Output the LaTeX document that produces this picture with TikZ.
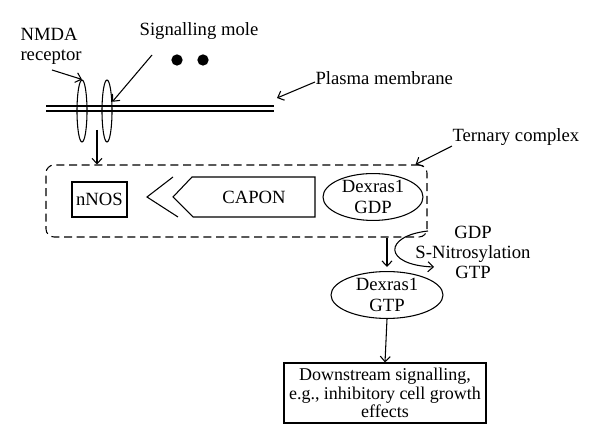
\documentclass[tikz,border=0pt]{standalone}
\usepackage{fontspec}
\setmainfont{Liberation Serif}
\usetikzlibrary{arrows.meta,shapes.geometric,positioning}

\begin{document}
\begin{tikzpicture}[x=0.75pt,y=-0.75pt,
                    line width=0.8pt,
                    lbl/.style={font=\fontsize{14}{15}\selectfont,inner sep=0pt},
                    arr/.style={-{Straight Barb[length=4pt,width=7.5pt]}},
                    chan/.style={draw,ellipse,inner sep=0pt,
                    minimum width=7.5pt,minimum height=46.5pt},
                    prot/.style={draw,ellipse,inner sep=0pt,align=center,
                    font=\fontsize{14}{15.5}\selectfont},
                    box/.style={draw,rectangle,inner sep=0pt,align=center,
                    font=\fontsize{13.5}{14}\selectfont}]
    \useasboundingbox (0,0) rectangle (600,448);

    % labels at the top
    \node[lbl,align=left,anchor=north west] (nmda) at (20,28) {NMDA\\receptor};
    \node[lbl] (sigmol) at (199,31) {Signalling mole};
    \node[lbl,anchor=west] (plasma) at (315,78) {Plasma membrane};
    \node[lbl,anchor=west] (ternlbl) at (452,137) {Ternary complex};

    \node[circle,fill,inner sep=0pt,minimum size=8.5pt] (dotA) at (177,60) {};
    \node[circle,fill,inner sep=0pt,minimum size=8.5pt] (dotB) at (203,60) {};

    % membrane and channels
    \coordinate (memLa) at (46,106);
    \coordinate (memRa) at (274,106);
    \coordinate (memLb) at (46,111);
    \coordinate (memRb) at (274,111);
    \draw (memLa) -- (memRa);
    \draw (memLb) -- (memRb);
    \node[chan] (nmdach) at (82,111) {};
    \node[chan] (sigch) at (107,111) {};

    \coordinate (nmdatail) at (52,70);
    \coordinate (sigtail) at (152,55);
    \coordinate (memtip) at (277,98);
    \coordinate (chtail) at (97,130);
    \draw[arr] (nmdatail) -- (nmdach.north);
    \draw[arr] (sigtail) -- (sigch.60);
    \draw[arr] (plasma.west |- 0,82) -- (memtip);

    % ternary complex
    \node[draw,dashed,dash pattern=on 6pt off 3.5pt,rounded corners=6pt,
          minimum width=285.75pt,minimum height=54pt] (ternary) at (236.5,201) {};
    \node[box,font=\fontsize{14}{15}\selectfont,
          minimum width=41.25pt,minimum height=26.25pt] (nnos) at (99.5,199.5) {nNOS};
    \coordinate (chevA) at (173,177);
    \coordinate (chevB) at (147,197);
    \coordinate (chevC) at (178,217);
    \draw (chevA) -- (chevB) -- (chevC);
    \draw (192,177) -- (315,177) -- (315,217) -- (193,217) -- (173,197) -- cycle;
    \node[lbl] (capon) at (254,197) {CAPON};
    \node[prot,minimum width=75pt,minimum height=33pt] (dgdp) at (373,197) {Dexras1\\GDP};

    \draw[arr] (chtail) -- (chtail |- ternary.north);
    \draw[arr] (ternlbl.south west) -- ([xshift=-9pt]ternary.north east);

    % activation
    \node[prot,minimum width=84pt,minimum height=31.5pt] (dgtp) at (387,295) {Dexras1\\GTP};
    \draw[arr] (dgtp.north |- ternary.south) -- ([yshift=3pt]dgtp.north);

    \coordinate (snA) at (428,231);
    \coordinate (snB) at (434,267);
    \draw[arr] (snA) .. controls (383,236) and (383,265) .. (snB);
    \node[lbl,align=center,font=\fontsize{14}{15}\selectfont] (sntext) at (473,252)
        {GDP\\S-Nitrosylation\\GTP};

    % downstream
    \node[box,minimum width=151.5pt,minimum height=45pt] (downstr) at (385,393)
        {Downstream signalling,\\e.g., inhibitory cell growth\\effects};
    \draw[arr] (dgtp.south) -- (downstr.north);
\end{tikzpicture}
\end{document}
